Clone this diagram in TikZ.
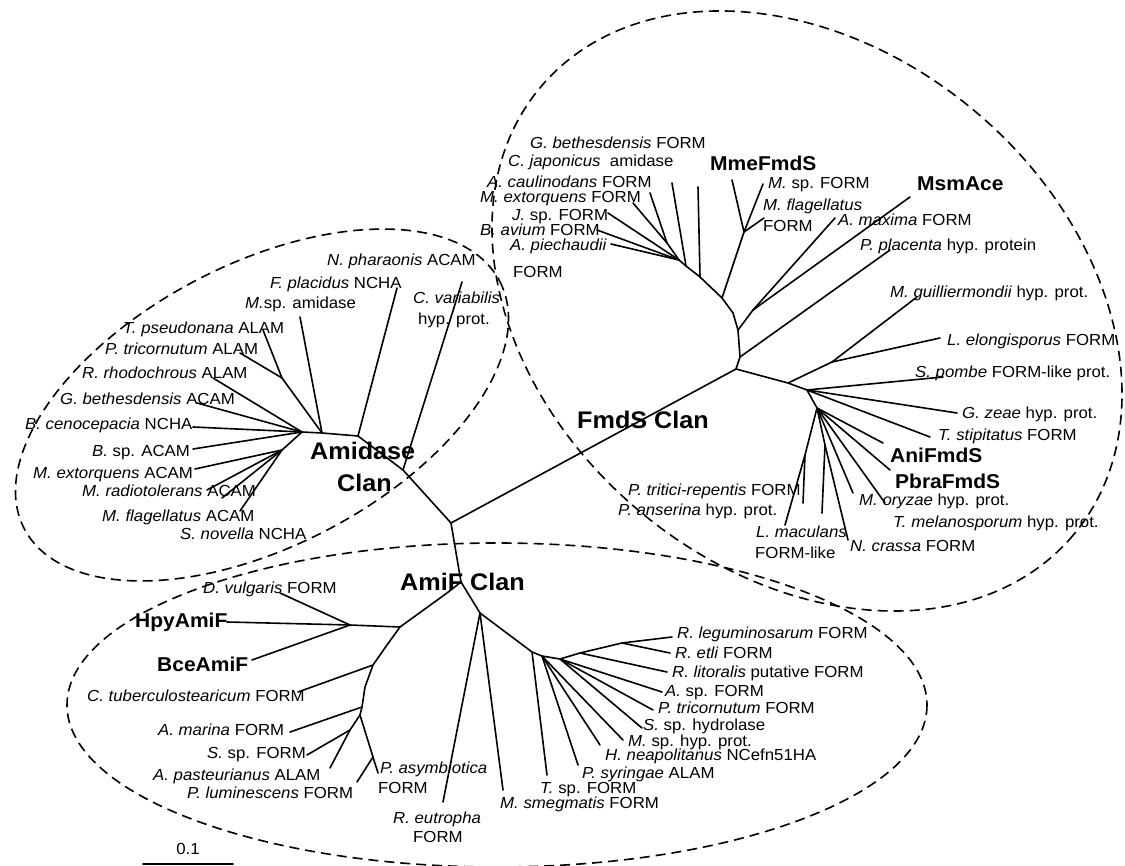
\documentclass[tikz,border=0pt]{standalone}
\usepackage{fontspec}
\setmainfont{Liberation Sans}[FakeStretch=1.05]
\begin{document}
\begin{tikzpicture}[x=1pt,y=-1pt,
  tree/.style={line width=1.6pt, line cap=round, line join=round},
  dsh/.style={line width=1.6pt, dash pattern=on 10pt off 6pt},
  lab/.style={anchor=west, inner sep=0pt, text height=11.5pt, text depth=0pt, font=\fontsize{16}{19}\selectfont},
  blab/.style={anchor=west, inner sep=0pt, text height=14.3pt, text depth=0pt, font=\fontsize{20}{24}\selectfont\bfseries},
  clab/.style={anchor=west, inner sep=0pt, text height=17.2pt, text depth=0pt, font=\fontsize{24}{28}\selectfont\bfseries}]
\useasboundingbox (0,0) rectangle (1125,866);
\fill[white] (0,0) rectangle (1125,866);

% ---------------- ellipses
\draw[dsh, rotate around={27.5:(262,405)}] (262,405) ellipse [x radius=268, y radius=141];
\draw[dsh, rotate around={-40:(807,311)}] (807,311) ellipse [x radius=348, y radius=261];
\draw[dsh] (497,705) ellipse [x radius=430, y radius=162];

% ---------------- coordinates
\coordinate (C) at (451,523);
% Amidase
\coordinate (a1) at (403,470);
\coordinate (a2) at (358,436);
\coordinate (a3) at (322,433);
\coordinate (a4) at (302,432);
\coordinate (a5) at (282,378);
\coordinate (a6) at (282,450);
\coordinate (tNph) at (462,282);
\coordinate (tFpl) at (397,288);
\coordinate (tMsp) at (300,317);
\coordinate (tTps) at (263,330);
\coordinate (tPtr) at (240,353);
\coordinate (tRrh) at (213,378);
\coordinate (tGbe) at (197,403);
\coordinate (tBce) at (193,427);
\coordinate (tBsp) at (193,449);
\coordinate (tMex) at (195,469);
\coordinate (tMra) at (207,490);
\coordinate (tMfl) at (222,498);
\coordinate (tSno) at (240,511);
% FmdS
\coordinate (f1) at (736,369);
\coordinate (f2) at (740,357);
\coordinate (f3) at (738,330);
\coordinate (f3a) at (733,313);
\coordinate (f4) at (722,298);
\coordinate (f5) at (744,232);
\coordinate (f7) at (753,310);
\coordinate (g1) at (700,277);
\coordinate (g2) at (686,266);
\coordinate (g3) at (679,260);
\coordinate (j1) at (667,243);
\coordinate (tGbF) at (698,187);
\coordinate (tCja) at (672,183);
\coordinate (tAca) at (650,193);
\coordinate (tMeF) at (633,203);
\coordinate (tJsp) at (608,213);
\coordinate (tBav) at (597,230);
\coordinate (tApi) at (611,244);
\coordinate (tMme) at (732,180);
\coordinate (tMsF) at (763,184);
\coordinate (tMfF) at (764,218);
\coordinate (tAma) at (835,218);
\coordinate (tMsm) at (910,197);
\coordinate (tPpl) at (890,250);
\coordinate (k0) at (788,383);
\coordinate (k1) at (807,390);
\coordinate (k3) at (817,408);
\coordinate (n1) at (832,362);
\coordinate (k4) at (825,445);
\coordinate (k5) at (805,455);
\coordinate (tMgu) at (917,297);
\coordinate (tLel) at (940,338);
\coordinate (tSpo) at (943,377);
\coordinate (tGze) at (957,413);
\coordinate (tTst) at (930,437);
\coordinate (tAni) at (883,443);
\coordinate (tPbr) at (890,470);
\coordinate (tMor) at (853,493);
\coordinate (tTme) at (885,503);
\coordinate (tLm2) at (822,513);
\coordinate (tNcr) at (848,540);
\coordinate (tLma) at (785,525);
\coordinate (tPt2) at (803,503);
% AmiF
\coordinate (b1) at (461,582);
\coordinate (b2a) at (447,593);
\coordinate (b2) at (400,627);
\coordinate (b4) at (350,625);
\coordinate (b5a) at (387,645);
\coordinate (b5) at (373,665);
\coordinate (b6a) at (365,687);
\coordinate (b6) at (362,707);
\coordinate (b7) at (360,715);
\coordinate (b8) at (350,730);
\coordinate (bp) at (373,757);
\coordinate (b3) at (480,613);
\coordinate (b9) at (532,652);
\coordinate (b10) at (542,656);
\coordinate (b11) at (560,659);
\coordinate (b12) at (580,653);
\coordinate (b13) at (622,643);
\coordinate (tDvu) at (280,593);
\coordinate (tHpy) at (227,622);
\coordinate (tBceA) at (252,660);
\coordinate (tCtu) at (298,692);
\coordinate (tAmar) at (290,732);
\coordinate (tSsp) at (307,755);
\coordinate (tApa) at (330,768);
\coordinate (tPas) at (378,773);
\coordinate (tPlu) at (357,782);
\coordinate (tReu) at (443,802);
\coordinate (tMsm2) at (503,790);
\coordinate (tTsp) at (547,775);
\coordinate (tPsy) at (578,765);
\coordinate (tHne) at (600,745);
\coordinate (tMsh) at (623,740);
\coordinate (tSsh) at (642,728);
\coordinate (tPtF) at (653,710);
\coordinate (tAsp) at (662,692);
\coordinate (tRli) at (667,672);
\coordinate (tRet) at (670,653);
\coordinate (tRle) at (672,637);
% scale bar
\coordinate (sb1) at (143,864);
\coordinate (sb2) at (233,864);

% ---------------- branches
\draw[tree] (C) -- (a1) -- (a2) -- (a3) -- (a4);
\draw[tree] (a1) -- (tNph);
\draw[tree] (a2) -- (tFpl);
\draw[tree] (a3) -- (tMsp);
\draw[tree] (a3) -- (a5);
\draw[tree] (a5) -- (tTps);
\draw[tree] (a5) -- (tPtr);
\draw[tree] (a4) -- (tRrh);
\draw[tree] (a4) -- (tGbe);
\draw[tree] (a4) -- (tBce);
\draw[tree] (a4) -- (tBsp);
\draw[tree] (a4) -- (a6);
\draw[tree] (a6) -- (tMex);
\draw[tree] (a6) -- (tMra);
\draw[tree] (a6) -- (tMfl);
\draw[tree] (a6) -- (tSno);

\draw[tree] (C) -- (f1) -- (f2) -- (f3) -- (f3a) -- (f4) -- (g1) -- (g2) -- (g3);
\draw[tree] (f4) -- (f5);
\draw[tree] (f5) -- (tMme);
\draw[tree] (f5) -- (tMsF);
\draw[tree] (f5) -- (tMfF);
\draw[tree] (f3) -- (f7);
\draw[tree] (f7) -- (tAma);
\draw[tree] (f7) -- (tMsm);
\draw[tree] (f2) -- (tPpl);
\draw[tree] (g1) -- (tGbF);
\draw[tree] (g2) -- (tCja);
\draw[tree] (g3) -- (j1);
\draw[tree] (j1) -- (tAca);
\draw[tree] (j1) -- (tMeF);
\draw[tree] (g3) -- (tJsp);
\draw[tree] (g3) -- (tBav);
\draw[tree] (g3) -- (tApi);
\draw[tree] (f1) -- (k0) -- (k1) -- (k3);
\draw[tree] (k0) -- (n1) -- (tMgu);
\draw[tree] (n1) -- (tLel);
\draw[tree] (k1) -- (tSpo);
\draw[tree] (k1) -- (tGze);
\draw[tree] (k1) -- (tTst);
\draw[tree] (k3) -- (tAni);
\draw[tree] (k3) -- (tPbr);
\draw[tree] (k3) -- (tMor);
\draw[tree] (k3) -- (tTme);
\draw[tree] (k3) -- (k4);
\draw[tree] (k4) -- (tLm2);
\draw[tree] (k4) -- (tNcr);
\draw[tree] (k3) -- (k5) -- (tLma);
\draw[tree] (k5) -- (tPt2);

\draw[tree] (C) -- (b1);
\draw[tree] (b1) -- (b2a) -- (b2) -- (b4);
\draw[tree] (b4) -- (tDvu);
\draw[tree] (b4) -- (tHpy);
\draw[tree] (b4) -- (tBceA);
\draw[tree] (b2) -- (b5a) -- (b5) -- (b6a) -- (b6) -- (b7);
\draw[tree] (b5) -- (tCtu);
\draw[tree] (b6) -- (tAmar);
\draw[tree] (b7) -- (b8);
\draw[tree] (b8) -- (tSsp);
\draw[tree] (b8) -- (tApa);
\draw[tree] (b7) -- (bp) -- (tPas);
\draw[tree] (bp) -- (tPlu);
\draw[tree] (b1) -- (b3);
\draw[tree] (b3) -- (tReu);
\draw[tree] (b3) -- (tMsm2);
\draw[tree] (b3) -- (b9);
\draw[tree] (b9) -- (tTsp);
\draw[tree] (b9) -- (b10) -- (b11) -- (b12) -- (b13) -- (tRle);
\draw[tree] (b13) -- (tRet);
\draw[tree] (b12) -- (tRli);
\draw[tree] (b10) -- (tPsy);
\draw[tree] (b10) -- (tHne);
\draw[tree] (b10) -- (tMsh);
\draw[tree] (b11) -- (tSsh);
\draw[tree] (b11) -- (tPtF);
\draw[tree] (b11) -- (tAsp);
\draw[tree] (sb1) -- (sb2);

% ---------------- labels: Amidase clan
\node[lab] (lNph) at (327,260) {\textit{N. pharaonis} ACAM};
\node[lab] (lFpl) at (270,283) {\textit{F. placidus} NCHA};
\node[lab] (lMsp) at (245,303) {\textit{M.}sp. amidase};
\node[lab] (lCva) at (413,298) {\textit{C. variabilis}};
\node[lab] (lCva2) at (418,319) {hyp. prot.};
\node[lab] (lTps) at (123,328) {\textit{T. pseudonana} ALAM};
\node[lab] (lPtr) at (105,349) {\textit{P. tricornutum} ALAM};
\node[lab] (lRrh) at (82,373) {\textit{R. rhodochrous} ALAM};
\node[lab] (lGbe) at (60,399) {\textit{G. bethesdensis} ACAM};
\node[lab] (lBce) at (25,424) {\textit{B. cenocepacia} NCHA};
\node[lab] (lBsp) at (92,451) {\textit{B.} sp. ACAM};
\node[lab] (lMex) at (33,473) {\textit{M. extorquens} ACAM};
\node[lab] (lMra) at (82,491) {\textit{M. radiotolerans} ACAM};
\node[lab] (lMfl) at (102,516) {\textit{M. flagellatus} ACAM};
\node[lab] (lSno) at (180,534) {\textit{S. novella} NCHA};
\node[clab] (lAmi) at (310,451) {Amidase};
\node[clab] (lAmi2) at (337,483) {Clan};

% ---------------- labels: FmdS clan
\node[lab] (lGbF) at (530,143) {\textit{G. bethesdensis} FORM};
\node[lab] (lCja) at (508,161) {\textit{C. japonicus}\ \ amidase};
\node[lab] (lAca) at (487,182) {\textit{A. caulinodans} FORM};
\node[lab] (lMeF) at (480,197) {\textit{M. extorquens} FORM};
\node[lab] (lJsp) at (512,215) {\textit{J.} sp. FORM};
\node[lab] (lBav) at (480,230) {\textit{B. avium} FORM};
\node[lab] (lApi) at (510,245) {\textit{A. piechaudii}};
\node[lab] (lApi2) at (513,272) {FORM};
\node[blab] (lMme) at (710,163) {MmeFmdS};
\node[lab] (lMsF) at (768,183) {\textit{M.} sp. FORM};
\node[lab] (lMfF) at (763,205) {\textit{M. flagellatus}};
\node[lab] (lMfF2) at (763,226) {FORM};
\node[blab] (lMsm) at (917,183) {MsmAce};
\node[lab] (lAma) at (838,220) {\textit{A. maxima} FORM};
\node[lab] (lPpl) at (860,245) {\textit{P. placenta} hyp. protein};
\node[lab] (lMgu) at (890,292) {\textit{M. guilliermondii} hyp. prot.};
\node[lab] (lLel) at (947,340) {\textit{L. elongisporus} FORM};
\node[lab] (lSpo) at (915,372) {\textit{S. pombe} FORM-like prot.};
\node[lab] (lGze) at (962,413) {\textit{G. zeae} hyp. prot.};
\node[lab] (lTst) at (938,435) {\textit{T. stipitatus} FORM};
\node[blab] (lAni) at (890,455) {AniFmdS};
\node[blab] (lPbr) at (895,481) {PbraFmdS};
\node[lab] (lMor) at (859,500) {\textit{M. oryzae} hyp. prot.};
\node[lab] (lTme) at (893,522) {\textit{T. melanosporum} hyp. prot.};
\node[lab] (lNcr) at (850,546) {\textit{N. crassa} FORM};
\node[lab] (lLma) at (756,532) {\textit{L. maculans}};
\node[lab] (lLma2) at (755,553) {FORM-like};
\node[lab] (lPtri) at (628,490) {\textit{P. tritici-repentis} FORM};
\node[lab] (lPan) at (618,510) {\textit{P. anserina} hyp. prot.};
\node[clab] (lFmd) at (577,420) {FmdS Clan};

% ---------------- labels: AmiF clan
\node[lab] (lDvu) at (203,588) {\textit{D. vulgaris} FORM};
\node[blab] (lHpy) at (135,620) {HpyAmiF};
\node[blab] (lBceA) at (157,664) {BceAmiF};
\node[lab] (lCtu) at (87,696) {\textit{C. tuberculostearicum} FORM};
\node[lab] (lAmar) at (158,730) {\textit{A. marina} FORM};
\node[lab] (lSsp) at (207,753) {\textit{S.} sp. FORM};
\node[lab] (lApa) at (153,775) {\textit{A. pasteurianus} ALAM};
\node[lab] (lPlu) at (187,793) {\textit{P. luminescens} FORM};
\node[lab] (lPas) at (380,768) {\textit{P. asymbiotica}};
\node[lab] (lPas2) at (378,788) {FORM};
\node[lab] (lReu) at (393,818) {\textit{R. eutropha}};
\node[lab] (lReu2) at (413,837) {FORM};
\node[lab] (lRle) at (677,633) {\textit{R. leguminosarum} FORM};
\node[lab] (lRet) at (675,653) {\textit{R. etli} FORM};
\node[lab] (lRli) at (672,672) {\textit{R. litoralis} putative FORM};
\node[lab] (lAsp) at (665,691) {\textit{A.} sp. FORM};
\node[lab] (lPtF) at (658,708) {\textit{P. tricornutum} FORM};
\node[lab] (lSsh) at (643,725) {\textit{S.} sp. hydrolase};
\node[lab] (lMsh) at (628,741) {\textit{M.} sp. hyp. prot.};
\node[lab] (lHne) at (605,755) {\textit{H. neapolitanus} NCefn51HA};
\node[lab] (lPsy) at (582,773) {\textit{P. syringae} ALAM};
\node[lab] (lTsp) at (540,788) {\textit{T.} sp. FORM};
\node[lab] (lMsm2) at (500,803) {\textit{M. smegmatis} FORM};
\node[clab] (lAmiF) at (400,582) {AmiF Clan};

\node[lab, anchor=center] (lsb) at (188,849) {0.1};
\end{tikzpicture}
\end{document}
